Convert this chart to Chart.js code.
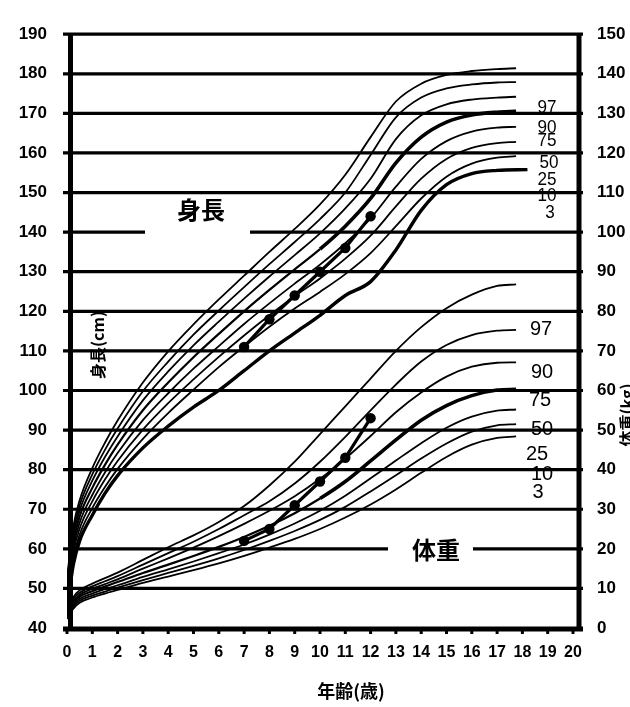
<!DOCTYPE html>
<html><head><meta charset="utf-8">
<script src="https://cdn.jsdelivr.net/npm/chart.js@4.4.0/dist/chart.umd.min.js"></script>
<style>html,body{margin:0;padding:0;background:#fff}#wrap{width:630px;height:707px;position:relative}</style>
</head><body><div id="wrap"><canvas id="c"></canvas></div>
<script>
// ---- data ----
const ages = [0,0.25,0.5,1,1.5,2,3,4,5,6,7,8,9,10,11,12,13,14,15,16,17,17.75];
const heightP97 = [52.6,65.6,72.3,80.4,86.8,92.4,102.0,109.9,116.7,123.0,129.0,135.0,140.8,147.0,154.5,164.0,173.0,177.5,179.7,180.7,181.2,181.4];
const heightP90 = [51.7,64.3,71.0,78.8,85.0,90.4,99.8,107.3,114.1,120.2,126.1,131.9,137.5,143.3,150.0,159.5,169.0,174.0,176.3,177.3,177.8,177.9];
const heightP75 = [50.5,63.1,69.7,77.2,83.2,88.4,97.5,104.8,111.4,117.4,123.2,128.8,134.2,139.7,146.0,153.5,163.5,169.5,172.3,173.5,174.0,174.2];
const heightP50 = [49.0,61.7,68.2,75.4,81.2,86.3,95.0,102.0,108.4,114.3,120.0,125.4,130.6,135.7,141.5,148.5,157.5,164.0,167.8,169.6,170.3,170.5];
const heightP25 = [47.4,60.3,66.6,73.6,79.3,84.2,92.5,99.3,105.5,111.2,116.8,122.0,127.0,131.8,137.2,143.5,151.5,158.5,163.0,165.4,166.4,166.6];
const heightP10 = [45.9,59.0,65.1,72.0,77.5,82.2,90.1,96.8,102.8,108.5,113.9,119.0,123.8,128.3,133.3,139.1,146.5,153.5,158.5,161.3,162.5,162.8];
const heightP3  = [44.0,57.5,63.6,70.3,75.6,80.2,87.8,94.3,100.2,105.9,111.1,116.1,120.7,124.9,129.4,134.7,141.5,148.5,154.0,157.3,158.8,159.2];
const extraAges   = [0,0.25,0.5,1,1.5,2,3,4,5,6,7,8,9,10,11,12,13,14,15,16,17,18.2];
const heightExtra = [45.0,56.0,62.0,68.5,74.0,78.5,85.5,91.0,95.8,100.0,105.0,110.0,114.5,119.0,124.0,127.5,135.5,145.5,152.0,154.8,155.6,155.8];

const weightP97 = [3.9,7.8,9.5,11.2,12.6,14.0,17.2,20.4,23.4,26.8,30.8,36.0,42.0,49.0,56.0,63.0,70.0,76.0,80.8,84.2,86.4,86.8];
const weightP90 = [3.7,7.3,8.9,10.5,11.8,13.1,16.0,18.9,21.8,25.0,28.5,32.0,36.5,42.0,48.3,55.0,61.5,67.3,71.5,74.0,75.1,75.3];
const weightP75 = [3.4,6.8,8.4,9.9,11.1,12.3,15.0,17.6,20.3,23.2,26.3,29.6,33.3,37.7,42.8,48.5,54.5,59.5,63.5,66.0,67.0,67.1];
const weightP50 = [3.1,6.3,7.9,9.3,10.5,11.6,13.9,16.0,18.2,20.5,23.0,25.8,29.0,32.7,37.0,42.2,47.5,52.5,56.2,58.7,60.1,60.3];
const weightP25 = [2.8,5.8,7.4,8.7,9.8,10.8,12.9,14.8,16.8,18.9,21.1,23.6,26.4,29.6,33.4,37.8,42.3,46.7,50.6,53.4,54.9,55.2];
const weightP10 = [2.6,5.4,6.9,8.2,9.2,10.2,12.1,13.9,15.7,17.6,19.7,22.0,24.5,27.3,30.6,34.5,38.6,42.8,46.6,49.6,51.2,51.5];
const weightP3  = [2.3,4.9,6.4,7.7,8.7,9.6,11.4,13.0,14.6,16.3,18.2,20.3,22.5,25.0,27.9,31.2,35.0,39.2,43.2,46.3,48.0,48.4];

const patientAges   = [7,8,9,10,11,12];
const patientHeight = [111,118,124,130,136,144];
const patientWeight = [22,25,31,37,43,53];

const percentileNames = ['97','90','75','50','25','10','3'];
const ageTicks    = [0,1,2,3,4,5,6,7,8,9,10,11,12,13,14,15,16,17,18,19,20];
const heightTicks = [40,50,60,70,80,90,100,110,120,130,140,150,160,170,180,190];
const weightTicks = [0,10,20,30,40,50,60,70,80,90,100,110,120,130,140,150];

// ---- datasets ----
function pts(xs, ys){ return xs.map((x,i)=>({x:x, y:ys[i]})); }
const boldFrom = 9.5;
function curve(label, xs, arr, axis, bold){
  return {label, data:pts(xs,arr), yAxisID:axis, borderColor:'#000', borderWidth: bold?3.6:1.8,
    segment: bold ? {borderWidth: c => (c.p0.parsed.x >= boldFrom ? 3.6 : 2.2)} : undefined,
    pointRadius:0, cubicInterpolationMode:'monotone', fill:false};
}
const heightSets = [heightP97,heightP90,heightP75,heightP50,heightP25,heightP10,heightP3];
const weightSets = [weightP97,weightP90,weightP75,weightP50,weightP25,weightP10,weightP3];
const datasets = [];
heightSets.forEach((arr,i)=>datasets.push(curve('身長 '+percentileNames[i], ages, arr, 'y', percentileNames[i]==='50')));
datasets.push({label:'身長 extra', data:pts(extraAges,heightExtra), yAxisID:'y', borderColor:'#000', borderWidth:3.4, pointRadius:0, cubicInterpolationMode:'monotone', fill:false});
weightSets.forEach((arr,i)=>datasets.push(curve('体重 '+percentileNames[i], ages, arr, 'y2', percentileNames[i]==='50')));
datasets.push({label:'身長', data:pts(patientAges,patientHeight), yAxisID:'y', borderColor:'#000', borderWidth:3.2, pointRadius:5.2, pointBackgroundColor:'#000', pointBorderWidth:0, tension:0});
datasets.push({label:'体重', data:pts(patientAges,patientWeight), yAxisID:'y2', borderColor:'#000', borderWidth:3.2, pointRadius:5.2, pointBackgroundColor:'#000', pointBorderWidth:0, tension:0});

const decor = {
  id:'decor',
  beforeDatasetsDraw(chart){
    const ctx = chart.ctx, ys = chart.scales.y, xs = chart.scales.x;
    ctx.save();
    ctx.strokeStyle = '#000'; ctx.lineCap = 'butt';
    ctx.lineWidth = 3.2;
    heightTicks.forEach(v=>{
      if (v===40) return;
      const y = ys.getPixelForValue(v);
      let segs = [[63,583]];
      if (v===140) segs = [[63,145],[250,583]];
      if (v===60)  segs = [[63,388],[473,583]];
      segs.forEach(s=>{ctx.beginPath(); ctx.moveTo(s[0],y); ctx.lineTo(s[1],y); ctx.stroke();});
    });
    ctx.lineWidth = 5;
    const yb = ys.getPixelForValue(40), yt = ys.getPixelForValue(190);
    ctx.beginPath(); ctx.moveTo(63, yb+1); ctx.lineTo(583, yb+1); ctx.stroke();
    ctx.beginPath(); ctx.moveTo(70.5, yt-1); ctx.lineTo(70.5, yb+3); ctx.stroke();
    ctx.beginPath(); ctx.moveTo(579, yt-1); ctx.lineTo(579, yb+3); ctx.stroke();
    ctx.lineWidth = 3;
    ageTicks.forEach(v=>{const x = xs.getPixelForValue(v); ctx.beginPath(); ctx.moveTo(x, yb+2); ctx.lineTo(x, yb+6); ctx.stroke();});
    ctx.restore();
  },
  afterDatasetsDraw(chart){
    const ctx = chart.ctx;
    ctx.save();
    ctx.fillStyle = '#000'; ctx.textAlign = 'center'; ctx.textBaseline = 'middle';
    ctx.font = 'bold 24px "Noto Sans CJK JP"';
    ctx.fillText('身長', 201, 210);
    ctx.fillText('体重', 436, 550);
    ctx.font = 'bold 18px "Noto Sans CJK JP"';
    ctx.fillText('年齢(歳)', 351, 691);
    ctx.font = 'bold 16px "Noto Sans CJK JP"';
    ctx.save(); ctx.translate(98, 345); ctx.rotate(-Math.PI/2); ctx.fillText('身長(cm)', 0, 0); ctx.restore();
    ctx.save(); ctx.translate(627, 415); ctx.rotate(-Math.PI/2); ctx.fillText('体重(kg)', 0, 0); ctx.restore();
    const hy = [108.5,128.5,141.5,163.5,180,196,213.5];
    const hx = [547,547,547,549,547,547,550];
    ctx.font = '18px "Liberation Sans"';
    percentileNames.forEach((n,i)=>{ ctx.save(); ctx.translate(hx[i], hy[i]); ctx.scale(0.95,1); ctx.fillText(n,0,0); ctx.restore(); });
    const wy = [329.5,372.5,400.5,429.5,454.5,474.5,492.5];
    const wx = [541,542,540,542,537,542,538];
    ctx.font = '20px "Liberation Sans"';
    percentileNames.forEach((n,i)=>{ ctx.fillText(n, wx[i], wy[i]); });
    ctx.restore();
  }
};

new Chart(document.getElementById('c'), {
  type:'line',
  data:{datasets},
  options:{
    responsive:true, maintainAspectRatio:false, animation:false, devicePixelRatio:1,
    layout:{padding:{top:17,left:0,right:0,bottom:0}},
    plugins:{legend:{display:false}, tooltip:{enabled:false}},
    scales:{
      x:{type:'linear', min:0, max:20,
         afterBuildTicks:s=>{s.ticks = ageTicks.map(v=>({value:v}));},
         afterFit:s=>{s.height = 79;},
         grid:{display:false, drawTicks:false}, border:{display:false},
         ticks:{autoSkip:false, maxRotation:0, padding:15, color:'#000', font:{family:'Liberation Sans', weight:'bold', size:16}}},
      y:{type:'linear', position:'left', min:40, max:190,
         afterBuildTicks:s=>{s.ticks = heightTicks.map(v=>({value:v}));},
         afterFit:s=>{s.width = 67;},
         grid:{display:false, drawTicks:false}, border:{display:false},
         ticks:{padding:20, color:'#000', font:{family:'Liberation Sans', weight:'bold', size:17}}},
      y2:{type:'linear', position:'right', min:0, max:150,
         afterBuildTicks:s=>{s.ticks = weightTicks.map(v=>({value:v}));},
         afterFit:s=>{s.width = 57;},
         grid:{display:false, drawTicks:false}, border:{display:false},
         ticks:{padding:24, color:'#000', font:{family:'Liberation Sans', weight:'bold', size:17}}}
    }
  },
  plugins:[decor]
});
</script></body></html>
